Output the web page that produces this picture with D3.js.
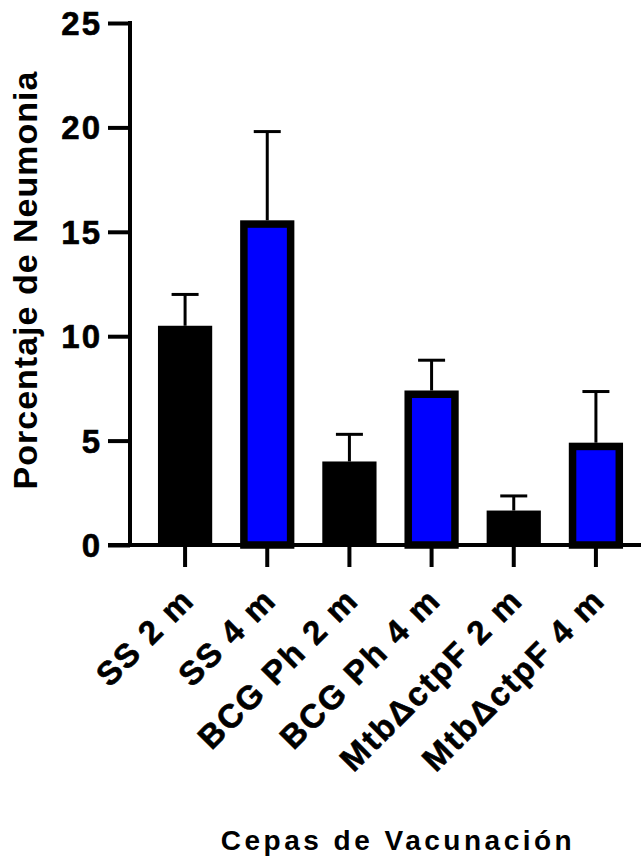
<!DOCTYPE html>
<html>
<head>
<meta charset="utf-8">
<script src="https://cdn.jsdelivr.net/npm/d3@7"></script>
<style>
  html, body { margin: 0; padding: 0; background: #fff; }
  svg { display: block; }
  text { font-family: "Liberation Sans", Arial, Helvetica, sans-serif; font-weight: bold; fill: #000; }
</style>
</head>
<body>
<svg id="chart" width="644" height="861"></svg>
<script>
// ---- data ----
const categories = ["SS 2 m", "SS 4 m", "BCG Ph 2 m", "BCG Ph 4 m", "MtbΔctpF 2 m", "MtbΔctpF 4 m"];
const means      = [10.5, 15.55, 4.0, 7.4, 1.65, 4.9];
const errors     = [1.5, 4.25, 1.3, 1.45, 0.7, 2.45];
const fills      = ["#000000", "#0000ff", "#000000", "#0000ff", "#000000", "#0000ff"];
const yTicks     = [0, 5, 10, 15, 20, 25];
const yTitle     = "Porcentaje de Neumonia";
const xTitle     = "Cepas de Vacunación";

// ---- layout ----
const svg = d3.select("#chart");
const axisX = 130, axisY = 545;

const y = d3.scaleLinear().domain([0, 25]).range([545, 23]);
const x = d3.scaleBand().domain(categories).range([144, 637]).paddingInner(0.34).paddingOuter(0.17);

// bars
const border = 7.5;
categories.forEach((c, i) => {
  const x0 = x(c), w = x.bandwidth();
  const top = y(means[i]);
  if (fills[i] === "#000000") {
    svg.append("rect").attr("x", x0).attr("y", top).attr("width", w).attr("height", y(0) - top)
      .attr("fill", "#000");
  } else {
    svg.append("rect").attr("x", x0 + border / 2).attr("y", top + border / 2)
      .attr("width", w - border).attr("height", y(0) - top - border / 2)
      .attr("fill", fills[i]).attr("stroke", "#000").attr("stroke-width", border);
  }
  // error bar (upper only)
  const cx = x0 + w / 2;
  const ye = y(means[i] + errors[i]);
  svg.append("line").attr("x1", cx).attr("x2", cx).attr("y1", top).attr("y2", ye)
    .attr("stroke", "#000").attr("stroke-width", 3);
  svg.append("line").attr("x1", cx - 13.5).attr("x2", cx + 13.5).attr("y1", ye).attr("y2", ye)
    .attr("stroke", "#000").attr("stroke-width", 3);
});

// y axis
const gy = svg.append("g").attr("transform", `translate(${axisX},0)`)
  .call(d3.axisLeft(y).tickValues(yTicks).tickSize(22).tickPadding(0).tickFormat(d3.format("d")));
gy.select(".domain").remove();
gy.selectAll(".tick line").attr("stroke", "#000").attr("stroke-width", 4);
gy.selectAll(".tick text").attr("x", -28).attr("dy", "0.35em")
  .style("font-size", "33px").style("letter-spacing", "2px")
  .style("stroke", "#000").style("stroke-width", "0.6px").attr("fill", "#000");
svg.append("line").attr("x1", axisX).attr("x2", axisX).attr("y1", y(25) - 2).attr("y2", axisY + 2)
  .attr("stroke", "#000").attr("stroke-width", 4);

// x axis
const gx = svg.append("g").attr("transform", `translate(0,${axisY})`)
  .call(d3.axisBottom(x).tickSize(22).tickFormat(""));
gx.select(".domain").remove();
gx.selectAll(".tick line").attr("stroke", "#000").attr("stroke-width", 4);
svg.append("line").attr("x1", 108).attr("x2", 641).attr("y1", axisY).attr("y2", axisY)
  .attr("stroke", "#000").attr("stroke-width", 4);

// rotated category labels
categories.forEach(c => {
  const cx = x(c) + x.bandwidth() / 2;
  svg.append("text")
    .attr("transform", `translate(${cx + 11},${axisY + 57}) rotate(-45)`)
    .attr("text-anchor", "end")
    .style("font-size", "33px").style("letter-spacing", "2px")
    .style("stroke", "#000").style("stroke-width", "0.6px")
    .text(c);
});

// axis titles
svg.append("text")
  .attr("transform", `translate(37,280) rotate(-90)`)
  .attr("text-anchor", "middle")
  .style("font-size", "34px").style("letter-spacing", "1px")
  .text(yTitle);

svg.append("text")
  .attr("x", 398).attr("y", 850)
  .attr("text-anchor", "middle")
  .style("font-size", "28px").style("letter-spacing", "3.5px")
  .text(xTitle);
</script>
</body>
</html>
